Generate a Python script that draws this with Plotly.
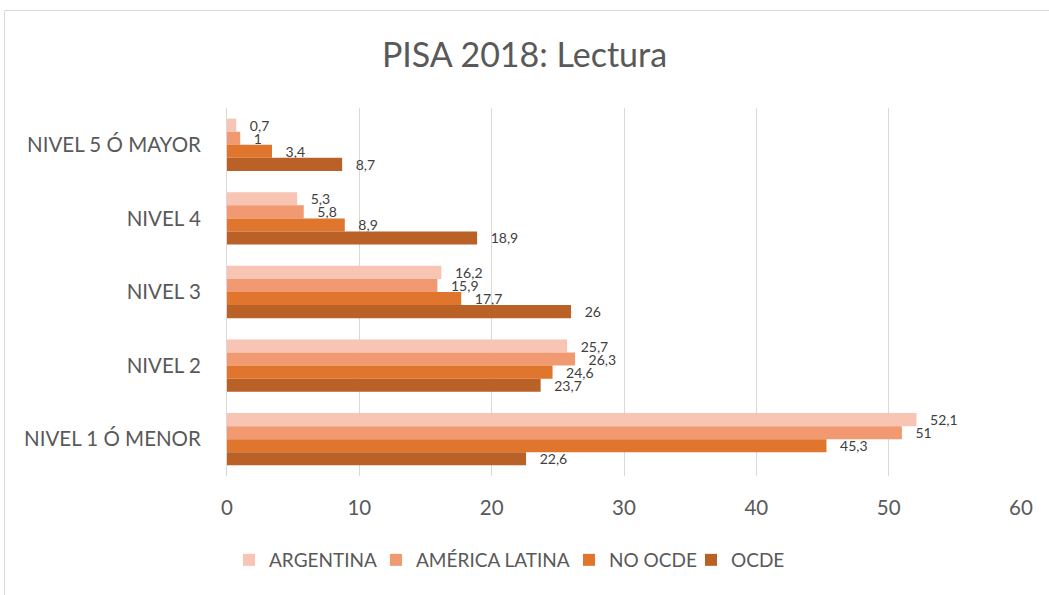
import plotly.graph_objects as go

categories = ["NIVEL 5 Ó MAYOR", "NIVEL 4", "NIVEL 3", "NIVEL 2", "NIVEL 1 Ó MENOR"]
series_names = ["ARGENTINA", "AMÉRICA LATINA", "NO OCDE", "OCDE"]
argentina = [0.7, 5.3, 16.2, 25.7, 52.1]
america_latina = [1, 5.8, 15.9, 26.3, 51]
no_ocde = [3.4, 8.9, 17.7, 24.6, 45.3]
ocde = [8.7, 18.9, 26, 23.7, 22.6]
x_ticks = [0, 10, 20, 30, 40, 50, 60]

colors = ["#F8C5B4", "#F19A71", "#E0762E", "#BA6128"]
values = [argentina, america_latina, no_ocde, ocde]
FONT = "Lato, Carlito, sans-serif"

W, H = 1049, 595
L, R, T, B = 227, 28, 108, 119
pw, ph = W - L - R, H - T - B

def px_x(p):
    return (p - L) / pw

def px_y(p):
    return (H - B - p) / ph

def fmt(v):
    return "\u2002 " + ("%g" % v).replace(".", ",")

legend_ids = ["legend", "legend2", "legend3", "legend4"]
legend_sym_centers = [248, 395, 588, 710]

fig = go.Figure()
for name, vals, col, lid in zip(series_names, values, colors, legend_ids):
    fig.add_trace(go.Bar(
        y=categories, x=vals, name=name, orientation="h",
        marker=dict(color=col, line=dict(width=0)),
        text=[fmt(v) for v in vals], textposition="outside",
        textfont=dict(size=14, color="#404040", family=FONT),
        constraintext="none",
        cliponaxis=False,
        legend=lid,
    ))

legend_common = dict(orientation="h", yanchor="middle", y=px_y(560), xanchor="left",
                     font=dict(size=19, color="#595959", family=FONT), bgcolor="rgba(0,0,0,0)")
legends = {}
for lid, cx in zip(legend_ids, legend_sym_centers):
    legends[lid] = dict(legend_common, x=px_x(cx - 19))

fig.update_layout(
    width=W, height=H,
    margin=dict(l=L, r=R, t=T, b=B, autoexpand=False),
    paper_bgcolor="white", plot_bgcolor="white",
    barmode="group", bargap=0.29, bargroupgap=0,
    font=dict(family=FONT, color="#595959"),
    title=dict(text="PISA 2018: Lectura", x=0.5, xanchor="center", y=1 - 55 / H, yanchor="middle",
               font=dict(size=34, color="#595959", family=FONT)),
    xaxis=dict(range=[0, 60], tickvals=x_ticks, showgrid=True, gridcolor="#D9D9D9", gridwidth=1,
               zeroline=False, showline=False, tickfont=dict(size=20.5, color="#595959"), ticks="",
               ticklabelstandoff=17, automargin=False),
    yaxis=dict(autorange="reversed", showgrid=False, showline=True, linecolor="#D9D9D9", linewidth=1,
               tickfont=dict(size=20.5, color="#595959"), ticks="", ticklabelstandoff=21, automargin=False),
    shapes=[dict(type="rect", xref="paper", yref="paper", x0=px_x(4.5), x1=px_x(1100),
                 y0=px_y(700), y1=px_y(10.5), line=dict(color="#D9D9D9", width=1), layer="below")],
    showlegend=True,
    **legends,
)

fig.write_html("out.html", config={"displayModeBar": False},
               post_script="document.body.style.margin='0';document.body.style.padding='0';")
